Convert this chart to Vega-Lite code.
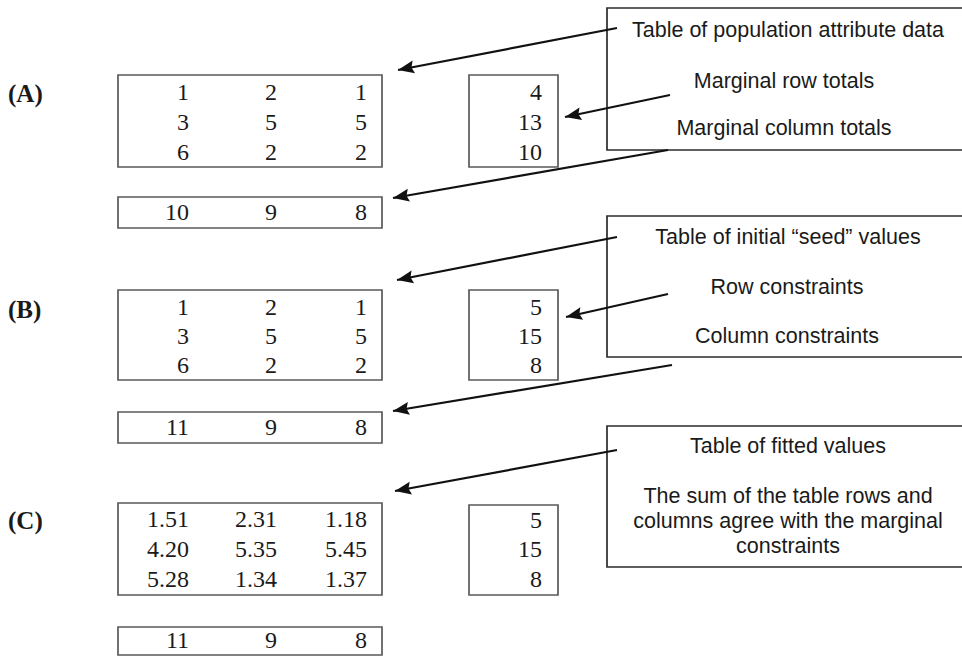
{
  "$schema": "https://vega.github.io/schema/vega-lite/v6.json",
  "width": 962,
  "height": 656,
  "autosize": {"type": "fit", "contains": "padding"},
  "padding": 0,
  "background": "white",
  "config": {"view": {"stroke": null}},
  "datasets": {
    "boxes": [
      {"x": 118, "x2": 382, "y": 75, "y2": 167, "kind": "table"},
      {"x": 469, "x2": 558, "y": 75, "y2": 167, "kind": "table"},
      {"x": 118, "x2": 382, "y": 197, "y2": 228, "kind": "table"},
      {"x": 118, "x2": 382, "y": 290, "y2": 380, "kind": "table"},
      {"x": 469, "x2": 558, "y": 290, "y2": 380, "kind": "table"},
      {"x": 118, "x2": 382, "y": 412, "y2": 443, "kind": "table"},
      {"x": 118, "x2": 382, "y": 503, "y2": 595, "kind": "table"},
      {"x": 469, "x2": 558, "y": 505, "y2": 595, "kind": "table"},
      {"x": 118, "x2": 382, "y": 627, "y2": 655, "kind": "table"},
      {"x": 607, "x2": 975, "y": 8, "y2": 150, "kind": "note"},
      {"x": 607, "x2": 975, "y": 216, "y2": 357, "kind": "note"},
      {"x": 607, "x2": 975, "y": 426, "y2": 567, "kind": "note"}
    ],
    "cells": [
      {"x": 189, "y": 93, "label": "1"}, {"x": 277, "y": 93, "label": "2"}, {"x": 367, "y": 93, "label": "1"},
      {"x": 189, "y": 123, "label": "3"}, {"x": 277, "y": 123, "label": "5"}, {"x": 367, "y": 123, "label": "5"},
      {"x": 189, "y": 153, "label": "6"}, {"x": 277, "y": 153, "label": "2"}, {"x": 367, "y": 153, "label": "2"},
      {"x": 542, "y": 93, "label": "4"}, {"x": 542, "y": 123, "label": "13"}, {"x": 542, "y": 153, "label": "10"},
      {"x": 189, "y": 213, "label": "10"}, {"x": 277, "y": 213, "label": "9"}, {"x": 367, "y": 213, "label": "8"},
      {"x": 189, "y": 308, "label": "1"}, {"x": 277, "y": 308, "label": "2"}, {"x": 367, "y": 308, "label": "1"},
      {"x": 189, "y": 337, "label": "3"}, {"x": 277, "y": 337, "label": "5"}, {"x": 367, "y": 337, "label": "5"},
      {"x": 189, "y": 366, "label": "6"}, {"x": 277, "y": 366, "label": "2"}, {"x": 367, "y": 366, "label": "2"},
      {"x": 542, "y": 308, "label": "5"}, {"x": 542, "y": 337, "label": "15"}, {"x": 542, "y": 366, "label": "8"},
      {"x": 189, "y": 428, "label": "11"}, {"x": 277, "y": 428, "label": "9"}, {"x": 367, "y": 428, "label": "8"},
      {"x": 189, "y": 520, "label": "1.51"}, {"x": 277, "y": 520, "label": "2.31"}, {"x": 367, "y": 520, "label": "1.18"},
      {"x": 189, "y": 550, "label": "4.20"}, {"x": 277, "y": 550, "label": "5.35"}, {"x": 367, "y": 550, "label": "5.45"},
      {"x": 189, "y": 580, "label": "5.28"}, {"x": 277, "y": 580, "label": "1.34"}, {"x": 367, "y": 580, "label": "1.37"},
      {"x": 542, "y": 521, "label": "5"}, {"x": 542, "y": 550, "label": "15"}, {"x": 542, "y": 580, "label": "8"},
      {"x": 189, "y": 641, "label": "11"}, {"x": 277, "y": 641, "label": "9"}, {"x": 367, "y": 641, "label": "8"}
    ],
    "sections": [
      {"x": 8, "y": 94, "label": "(A)"},
      {"x": 8, "y": 310, "label": "(B)"},
      {"x": 8, "y": 521, "label": "(C)"}
    ],
    "notes": [
      {"x": 788, "y": 31, "label": "Table of population attribute data"},
      {"x": 784, "y": 82, "label": "Marginal row totals"},
      {"x": 784, "y": 129, "label": "Marginal column totals"},
      {"x": 788, "y": 238, "label": "Table of initial \u201cseed\u201d values"},
      {"x": 787, "y": 288, "label": "Row constraints"},
      {"x": 787, "y": 337, "label": "Column constraints"},
      {"x": 788, "y": 447, "label": "Table of fitted values"},
      {"x": 788, "y": 497, "label": "The sum of the table rows and"},
      {"x": 788, "y": 522, "label": "columns agree with the marginal"},
      {"x": 788, "y": 547, "label": "constraints"}
    ],
    "arrows": [
      {"x": 617, "y": 28, "x2": 398, "y2": 70, "ang": -10.9},
      {"x": 670, "y": 95, "x2": 565, "y2": 117, "ang": -11.8},
      {"x": 668, "y": 150, "x2": 393, "y2": 198, "ang": -9.9},
      {"x": 617, "y": 237, "x2": 397, "y2": 280, "ang": -11.1},
      {"x": 668, "y": 294, "x2": 566, "y2": 317, "ang": -12.7},
      {"x": 672, "y": 365, "x2": 393, "y2": 411, "ang": -9.4},
      {"x": 617, "y": 450, "x2": 395, "y2": 491, "ang": -10.5}
    ]
  },
  "layer": [
    {
      "data": {"name": "boxes"},
      "transform": [{"filter": "datum.kind === 'note'"}],
      "mark": {"type": "rect", "fill": "white", "stroke": "#2b2b2b", "strokeWidth": 1.7, "clip": true},
      "encoding": {
        "x": {"field": "x", "type": "quantitative", "scale": {"domain": [0, 962], "nice": false, "zero": false}, "axis": null},
        "x2": {"field": "x2"},
        "y": {"field": "y", "type": "quantitative", "scale": {"domain": [0, 656], "nice": false, "zero": false, "reverse": true}, "axis": null},
        "y2": {"field": "y2"}
      }
    },
    {
      "data": {"name": "boxes"},
      "transform": [{"filter": "datum.kind === 'table'"}],
      "mark": {"type": "rect", "fill": "white", "stroke": "#5a5a5a", "strokeWidth": 1.7},
      "encoding": {
        "x": {"field": "x", "type": "quantitative", "scale": {"domain": [0, 962], "nice": false, "zero": false}, "axis": null},
        "x2": {"field": "x2"},
        "y": {"field": "y", "type": "quantitative", "scale": {"domain": [0, 656], "nice": false, "zero": false, "reverse": true}, "axis": null},
        "y2": {"field": "y2"}
      }
    },
    {
      "data": {"name": "arrows"},
      "mark": {"type": "rule", "color": "#111111", "strokeWidth": 2.2},
      "encoding": {
        "x": {"field": "x", "type": "quantitative", "scale": {"domain": [0, 962], "nice": false, "zero": false}, "axis": null},
        "x2": {"field": "x2"},
        "y": {"field": "y", "type": "quantitative", "scale": {"domain": [0, 656], "nice": false, "zero": false, "reverse": true}, "axis": null},
        "y2": {"field": "y2"}
      }
    },
    {
      "data": {"name": "arrows"},
      "mark": {"type": "point", "shape": "M0,0 L2,-0.8 L1.7,0 L2,0.8 Z", "filled": true, "color": "#111111", "opacity": 1, "size": 260},
      "encoding": {
        "x": {"field": "x2", "type": "quantitative", "scale": {"domain": [0, 962], "nice": false, "zero": false}, "axis": null},
        "y": {"field": "y2", "type": "quantitative", "scale": {"domain": [0, 656], "nice": false, "zero": false, "reverse": true}, "axis": null},
        "angle": {"field": "ang", "type": "quantitative", "scale": null}
      }
    },
    {
      "data": {"name": "cells"},
      "mark": {"type": "text", "align": "right", "baseline": "middle", "font": "Liberation Serif", "fontSize": 24, "color": "#1a1a1a"},
      "encoding": {
        "x": {"field": "x", "type": "quantitative", "scale": {"domain": [0, 962], "nice": false, "zero": false}, "axis": null},
        "y": {"field": "y", "type": "quantitative", "scale": {"domain": [0, 656], "nice": false, "zero": false, "reverse": true}, "axis": null},
        "text": {"field": "label"}
      }
    },
    {
      "data": {"name": "sections"},
      "mark": {"type": "text", "align": "left", "baseline": "middle", "font": "Liberation Serif", "fontWeight": "bold", "fontSize": 25, "color": "#1a1a1a"},
      "encoding": {
        "x": {"field": "x", "type": "quantitative", "scale": {"domain": [0, 962], "nice": false, "zero": false}, "axis": null},
        "y": {"field": "y", "type": "quantitative", "scale": {"domain": [0, 656], "nice": false, "zero": false, "reverse": true}, "axis": null},
        "text": {"field": "label"}
      }
    },
    {
      "data": {"name": "notes"},
      "mark": {"type": "text", "align": "center", "baseline": "middle", "font": "Liberation Sans", "fontSize": 21.5, "color": "#1a1a1a"},
      "encoding": {
        "x": {"field": "x", "type": "quantitative", "scale": {"domain": [0, 962], "nice": false, "zero": false}, "axis": null},
        "y": {"field": "y", "type": "quantitative", "scale": {"domain": [0, 656], "nice": false, "zero": false, "reverse": true}, "axis": null},
        "text": {"field": "label"}
      }
    }
  ]
}
